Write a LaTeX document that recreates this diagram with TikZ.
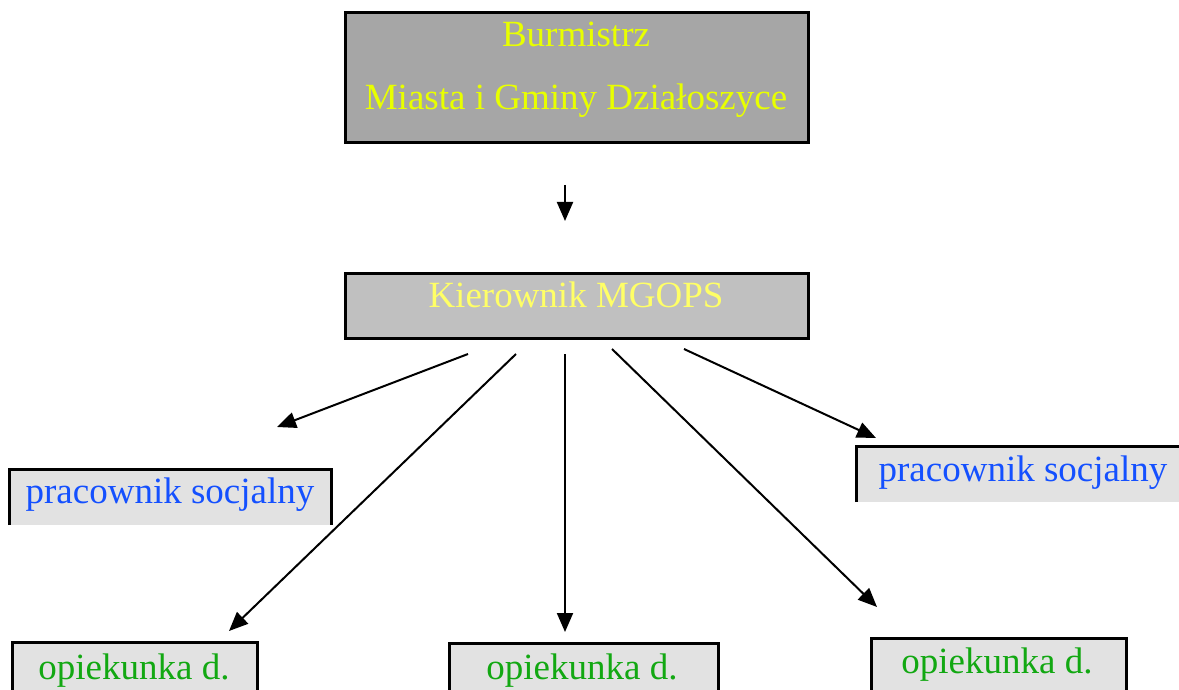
\documentclass[tikz,border=0pt]{standalone}
\usepackage{fontspec}
\setmainfont{Liberation Serif}
\usetikzlibrary{arrows.meta}
\definecolor{topfill}{HTML}{A6A6A6}
\definecolor{midfill}{HTML}{C0C0C0}
\definecolor{lowfill}{HTML}{E2E2E2}
\definecolor{topyellow}{HTML}{E8FF00}
\definecolor{midyellow}{HTML}{FFFF66}
\definecolor{socblue}{HTML}{1450FF}
\definecolor{opgreen}{HTML}{12A812}
\tikzset{
  txt/.style={anchor=base, inner sep=0pt, font=\fontsize{37}{44}\selectfont},
  boxline/.style={line width=3pt, line join=miter},
  conn/.style={line width=2pt, -{Triangle[length=19pt,width=16pt]}}
}
\begin{document}
\begin{tikzpicture}[x=1pt,y=-1pt]
\useasboundingbox (0,0) rectangle (1179,690);
% Burmistrz box
\draw[boxline, fill=topfill] (345,13) rectangle (808,143);
\node[txt, text=topyellow] (burm1) at (576,47) {Burmistrz};
\node[txt, text=topyellow] (burm2) at (576,110) {Miasta i Gminy Działoszyce};
\coordinate (a0s) at (565,185);
\coordinate (a0e) at (565,221);
\draw[conn] (a0s) -- (a0e);
% Kierownik box
\draw[boxline, fill=midfill] (345,273) rectangle (808,338);
\node[txt, text=midyellow] (kier) at (576,307) {Kierownik MGOPS};
% pracownik left
\fill[lowfill] (9,469) rectangle (331,525);
\draw[boxline] (9,525) -- (9,469) -- (331,469) -- (331,525);
\node[txt, text=socblue] (prac1) at (170,503) {pracownik socjalny};
% pracownik right
\fill[lowfill] (856,446) rectangle (1179,502);
\draw[boxline] (856,502) -- (856,446) -- (1180,446);
\node[txt, text=socblue] (prac2) at (1023,481) {pracownik socjalny};
% opiekunka boxes
\fill[lowfill] (12,642) rectangle (257,690);
\draw[boxline] (12,691) -- (12,642) -- (257,642) -- (257,691);
\node[txt, text=opgreen] (op1) at (134,679) {opiekunka d.};
\fill[lowfill] (449,643) rectangle (718,690);
\draw[boxline] (449,691) -- (449,643) -- (718,643) -- (718,691);
\node[txt, text=opgreen] (op2) at (582,679) {opiekunka d.};
\fill[lowfill] (871,638) rectangle (1126,690);
\draw[boxline] (871,691) -- (871,638) -- (1126,638) -- (1126,691);
\node[txt, text=opgreen] (op3) at (997,673) {opiekunka d.};
% connectors
\coordinate (s1) at (468,354); \coordinate (e1) at (277,427);
\coordinate (s2) at (516,354); \coordinate (e2) at (229,631);
\coordinate (s3) at (565,354); \coordinate (e3) at (565,632);
\coordinate (s4) at (612,349); \coordinate (e4) at (877,607);
\coordinate (s5) at (684,349); \coordinate (e5) at (876,438);
\draw[conn] (s1) -- (e1);
\draw[conn] (s2) -- (e2);
\draw[conn] (s3) -- (e3);
\draw[conn] (s4) -- (e4);
\draw[conn] (s5) -- (e5);
\end{tikzpicture}
\end{document}
